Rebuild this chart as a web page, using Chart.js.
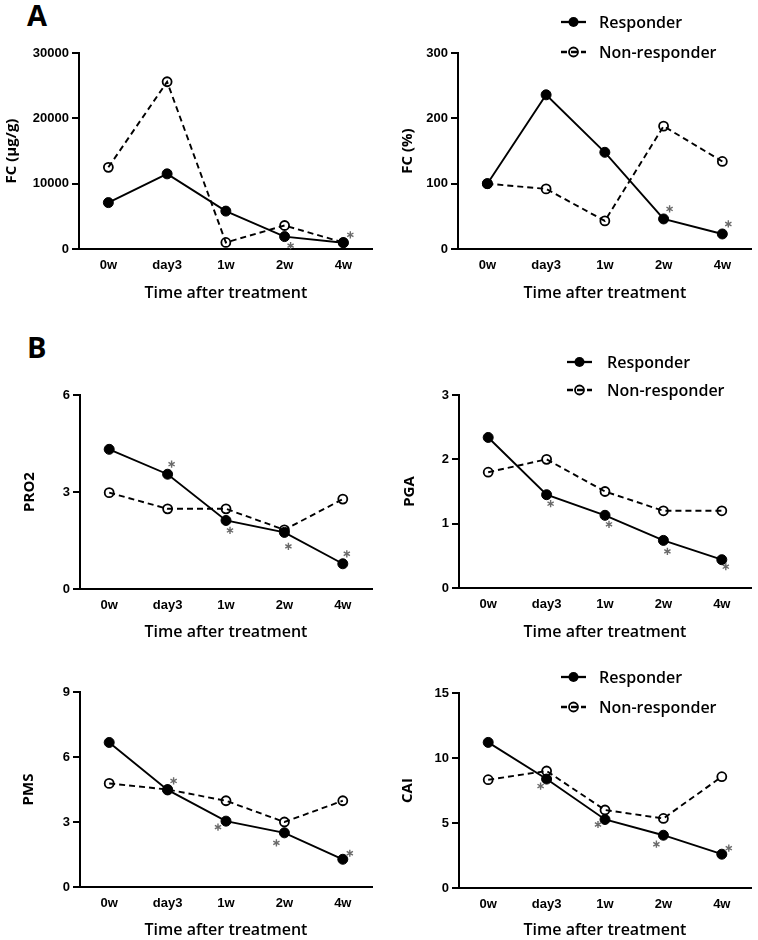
<!DOCTYPE html>
<html>
<head>
<meta charset="utf-8">
<script src="https://cdn.jsdelivr.net/npm/chart.js@4.4.1/dist/chart.umd.min.js"></script>
<style>
  body { margin: 0; background: #fff; width: 758px; height: 940px; position: relative; overflow: hidden; }
  canvas { position: absolute; }
  .tag { position: absolute; font: bold 29px 'Open Sans', sans-serif; color: #000; line-height: 1; }
</style>
</head>
<body>
<div class="tag" style="left:27px;top:0px">A</div>
<div class="tag" style="left:27px;top:332px">B</div>
<canvas id="fc" width="379" height="310" style="left:0;top:0"></canvas>
<canvas id="fcpct" width="379" height="310" style="left:379px;top:0"></canvas>
<canvas id="pro2" width="379" height="335" style="left:0;top:310px"></canvas>
<canvas id="pga" width="379" height="335" style="left:379px;top:310px"></canvas>
<canvas id="pms" width="379" height="295" style="left:0;top:645px"></canvas>
<canvas id="cai" width="379" height="295" style="left:379px;top:645px"></canvas>
<script>
// ===== Dados =====
const timepoints = ['0w', 'day3', '1w', '2w', '4w'];
const seriesNames = ['Responder', 'Non-responder'];

const fcResponder = [7100, 11500, 5800, 1900, 950];
const fcNonResponder = [12500, 25600, 1000, 3600, 1000];
const fcSig = [false, false, false, true, true];

const fcPctResponder = [100, 236, 148, 46, 23];
const fcPctNonResponder = [100, 92, 43, 188, 134];
const fcPctSig = [false, false, false, true, true];

const pro2Responder = [4.32, 3.55, 2.12, 1.75, 0.78];
const pro2NonResponder = [2.98, 2.48, 2.48, 1.83, 2.78];
const pro2Sig = [false, true, true, true, true];

const pgaResponder = [2.34, 1.45, 1.13, 0.74, 0.44];
const pgaNonResponder = [1.8, 2.0, 1.5, 1.2, 1.2];
const pgaSig = [false, true, true, true, true];

const pmsResponder = [6.67, 4.48, 3.04, 2.5, 1.28];
const pmsNonResponder = [4.78, 4.5, 3.98, 3.0, 3.98];
const pmsSig = [false, true, true, true, true];

const caiResponder = [11.2, 8.38, 5.27, 4.06, 2.6];
const caiNonResponder = [8.33, 9.0, 6.0, 5.35, 8.56];
const caiSig = [false, true, true, true, true];

// eixo y: máximo e passo
const fcAxis = [30000, 10000];
const fcPctAxis = [300, 100];
const pro2Axis = [6, 3];
const pgaAxis = [3, 1];
const pmsAxis = [9, 3];
const caiAxis = [15, 5];

const xTitle = 'Time after treatment';

// ===== Plugins =====
// asteriscos de significância ao lado dos pontos do Responder
const starPlugin = {
  id: 'stars',
  afterDatasetsDraw(chart, args, opts) {
    if (!opts.sig) return;
    const meta = chart.getDatasetMeta(0);
    const ctx = chart.ctx;
    ctx.save();
    ctx.strokeStyle = '#6a6a6a';
    ctx.lineWidth = 1.4;
    opts.sig.forEach((s, i) => {
      if (!s) return;
      const pt = meta.data[i];
      const [dx, dy] = opts.offsets[i];
      const cx = pt.x + dx, cy = pt.y + dy;
      ctx.beginPath();
      for (let k = 0; k < 3; k++) {
        const a = Math.PI / 2 + k * Math.PI / 3;
        ctx.moveTo(cx + 3.6 * Math.cos(a), cy + 3.6 * Math.sin(a));
        ctx.lineTo(cx - 3.6 * Math.cos(a), cy - 3.6 * Math.sin(a));
      }
      ctx.stroke();
    });
    ctx.restore();
  }
};

// legenda com linha + marcador
const lineLegend = {
  id: 'lineLegend',
  afterDraw(chart, args, opts) {
    if (!opts.rows) return;
    const ctx = chart.ctx;
    chart.data.datasets.forEach((ds, i) => {
      const y = opts.rows[i];
      ctx.save();
      ctx.strokeStyle = '#000';
      ctx.lineWidth = ds.borderWidth + 0.4;
      ctx.setLineDash(ds.borderDash || []);
      ctx.beginPath();
      ctx.moveTo(opts.x1, y);
      ctx.lineTo(opts.x2, y);
      ctx.stroke();
      ctx.setLineDash([]);
      const cx = (opts.x1 + opts.x2) / 2;
      ctx.beginPath();
      ctx.arc(cx, y, ds.pointRadius, 0, Math.PI * 2);
      if (ds.pointBackgroundColor === '#000') {
        ctx.fillStyle = '#000';
        ctx.fill();
      } else {
        ctx.lineWidth = ds.pointBorderWidth;
        ctx.stroke();
      }
      ctx.fillStyle = '#000';
      ctx.font = "600 16px 'Open Sans', sans-serif";
      ctx.textBaseline = 'middle';
      ctx.textAlign = 'left';
      ctx.fillText(ds.label, opts.textX, y + 1);
      ctx.restore();
    });
  }
};

Chart.register(starPlugin, lineLegend);
Chart.defaults.font.family = "'Liberation Sans', Arial, sans-serif";
Chart.defaults.color = '#000';

// ===== Cria um painel =====
function makePanel(cfg) {
  const canvas = document.getElementById(cfg.id);
  const W = canvas.width, H = canvas.height;
  const ca = cfg.area;
  const tickFont = { size: 13, weight: 'bold', family: "'Liberation Sans', Arial, sans-serif" };

  return new Chart(canvas, {
    type: 'line',
    data: {
      labels: timepoints,
      datasets: [
        {
          label: seriesNames[0],
          data: cfg.responder,
          borderColor: '#000',
          borderWidth: 1.9,
          pointRadius: 5,
          pointHoverRadius: 5,
          pointBackgroundColor: '#000',
          pointBorderColor: '#000',
          pointBorderWidth: 1,
          tension: 0,
          clip: false
        },
        {
          label: seriesNames[1],
          data: cfg.nonResponder,
          borderColor: '#000',
          borderWidth: 1.9,
          borderDash: [6, 4],
          pointRadius: 4.5,
          pointHoverRadius: 4.5,
          pointBackgroundColor: 'rgba(0,0,0,0)',
          pointBorderColor: '#000',
          pointBorderWidth: 1.8,
          tension: 0,
          clip: false
        }
      ]
    },
    options: {
      responsive: false,
      animation: false,
      events: [],
      layout: { padding: { left: 0, top: ca.t, right: W - ca.r, bottom: 0 } },
      plugins: {
        legend: { display: false },
        tooltip: { enabled: false },
        stars: { sig: cfg.sig, offsets: cfg.starOffsets },
        lineLegend: cfg.legend || {}
      },
      scales: {
        x: {
          offset: true,
          grid: { display: false, drawTicks: false },
          border: { display: true, color: '#000', width: 2 },
          ticks: { font: tickFont, padding: 9, maxRotation: 0 },
          title: {
            display: true,
            text: xTitle,
            font: { size: 16, weight: '600', family: "'Open Sans', sans-serif" },
            padding: { top: 0, bottom: H - cfg.xTitleY - 9.6 }
          },
          afterFit(s) { s.height = H - ca.b; }
        },
        y: {
          min: 0,
          max: cfg.axis[0],
          grid: { display: true, drawOnChartArea: false, drawTicks: true, tickLength: 7, color: '#000', lineWidth: 2 },
          border: { display: true, color: '#000', width: 2 },
          ticks: { stepSize: cfg.axis[1], font: tickFont, padding: 3, callback: v => String(v) },
          title: {
            display: true,
            text: cfg.yTitle,
            font: { size: 15, weight: 'bold', family: "'Open Sans', sans-serif" },
            padding: { top: cfg.yTitleX - 9, bottom: 0 }
          },
          afterFit(s) { s.width = ca.l; }
        }
      }
    }
  });
}

// deslocamentos dos asteriscos (estilo)
const UR = [6, -10];

makePanel({
  id: 'fc', responder: fcResponder, nonResponder: fcNonResponder, sig: fcSig, axis: fcAxis,
  yTitle: 'FC (μg/g)', area: { l: 79, t: 53, r: 377, b: 249 }, xTitleY: 293, yTitleX: 12,
  starOffsets: [null, null, null, [6, 9], [7, -8]]
});
makePanel({
  id: 'fcpct', responder: fcPctResponder, nonResponder: fcPctNonResponder, sig: fcPctSig, axis: fcPctAxis,
  yTitle: 'FC (%)', area: { l: 79, t: 53, r: 377, b: 249 }, xTitleY: 293, yTitleX: 29,
  starOffsets: [null, null, null, UR, UR],
  legend: { x1: 182, x2: 207, textX: 220, rows: [22, 52] }
});
makePanel({
  id: 'pro2', responder: pro2Responder, nonResponder: pro2NonResponder, sig: pro2Sig, axis: pro2Axis,
  yTitle: 'PRO2', area: { l: 80, t: 85, r: 372, b: 279 }, xTitleY: 322, yTitleX: 30,
  starOffsets: [null, [4, -10], [4, 10], [4, 14], [4, -10]]
});
makePanel({
  id: 'pga', responder: pgaResponder, nonResponder: pgaNonResponder, sig: pgaSig, axis: pgaAxis,
  yTitle: 'PGA', area: { l: 80, t: 85, r: 372, b: 278 }, xTitleY: 322, yTitleX: 31,
  starOffsets: [null, [4, 9], [4, 9], [4, 11], [4, 7]],
  legend: { x1: 188, x2: 213, textX: 228, rows: [52, 80] }
});
makePanel({
  id: 'pms', responder: pmsResponder, nonResponder: pmsNonResponder, sig: pmsSig, axis: pmsAxis,
  yTitle: 'PMS', area: { l: 80, t: 47, r: 372, b: 242 }, xTitleY: 285, yTitleX: 29,
  starOffsets: [null, [6, -9], [-8, 6], [-8, 10], [7, -6]]
});
makePanel({
  id: 'cai', responder: caiResponder, nonResponder: caiNonResponder, sig: caiSig, axis: caiAxis,
  yTitle: 'CAI', area: { l: 80, t: 48, r: 372, b: 243 }, xTitleY: 285, yTitleX: 29,
  starOffsets: [null, [-6, 7], [-7, 5], [-7, 9], [7, -6]],
  legend: { x1: 182, x2: 207, textX: 220, rows: [32, 62] }
});
</script>
</body>
</html>
